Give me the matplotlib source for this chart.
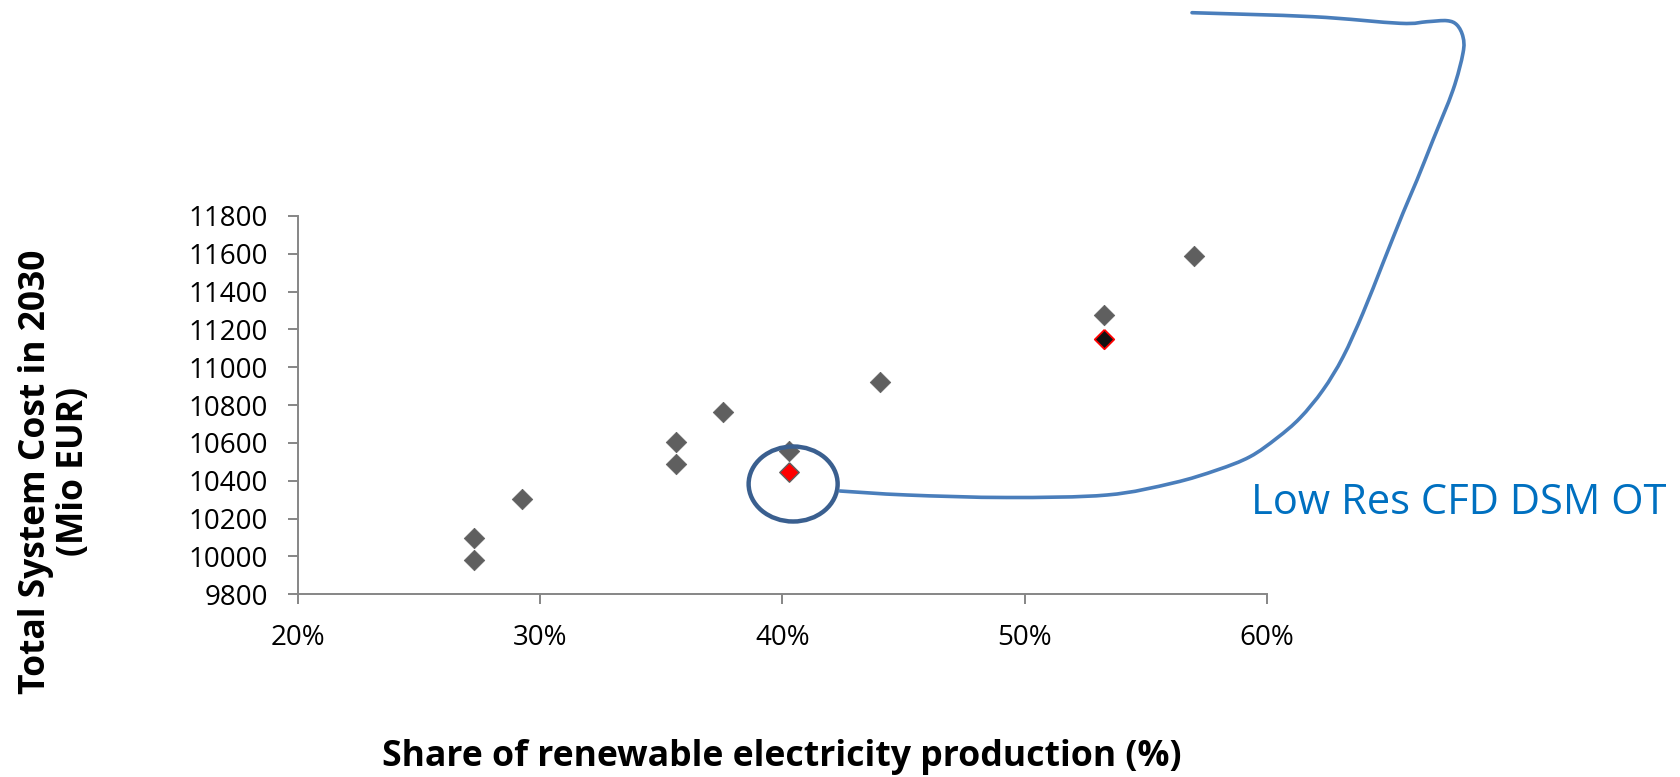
import matplotlib
matplotlib.use("Agg")
import matplotlib.pyplot as plt
from matplotlib.patches import Ellipse, PathPatch
from matplotlib.path import Path
from matplotlib.ticker import FuncFormatter

# ---------------- data ----------------
share_renewable = [0.2728, 0.2728, 0.2926, 0.3562, 0.3562, 0.3755, 0.4028, 0.4405, 0.5326, 0.5697]
total_cost = [10096, 9981, 10303, 10603, 10489, 10762, 10560, 10921, 11278, 11586]

highlight_share = [0.4028]
highlight_cost = [10445]

alt_share = [0.5326]
alt_cost = [11150]

x_ticks = [0.2, 0.3, 0.4, 0.5, 0.6]
y_ticks = [9800, 10000, 10200, 10400, 10600, 10800, 11000, 11200, 11400, 11600, 11800]

x_label = "Share of renewable electricity production (%)"
y_label = "Total System Cost in 2030\n(Mio EUR)"
callout_text = "Low Res CFD DSM OT"

# ---------------- styling ----------------
W, H = 1680, 777
FONT = "Open Sans"
GRAY = "#5f5f5f"
AXIS_GRAY = "#868686"

fig = plt.figure(figsize=(W / 100, H / 100), dpi=100)
ax = fig.add_axes([297.7 / W, 1 - 594.3 / H, (1267 - 297.7) / W, (594.3 - 216) / H])

diamond = [(0, 1), (1, 0), (0, -1), (-1, 0), (0, 1)]
ax.plot(share_renewable, total_cost, linestyle="none", marker=diamond, markersize=14.8,
        markerfacecolor=GRAY, markeredgecolor=GRAY, markeredgewidth=0.5, zorder=3)
ax.plot(highlight_share, highlight_cost, linestyle="none", marker=diamond, markersize=14,
        markerfacecolor="#ff0000", markeredgecolor=GRAY, markeredgewidth=1.0, zorder=4)
ax.plot(alt_share, alt_cost, linestyle="none", marker=diamond, markersize=14,
        markerfacecolor="#111111", markeredgecolor="#ff0000", markeredgewidth=1.3, zorder=4)

ax.set_xlim(0.2, 0.6)
ax.set_ylim(9800, 11800)
ax.set_xticks(x_ticks)
ax.set_yticks(y_ticks)
ax.xaxis.set_major_formatter(FuncFormatter(lambda v, p: f"{v*100:.0f}%"))

for s in ["top", "right"]:
    ax.spines[s].set_visible(False)
for s in ["left", "bottom"]:
    ax.spines[s].set_color(AXIS_GRAY)
    ax.spines[s].set_linewidth(1.4)
ax.tick_params(axis="both", direction="out", length=7, width=1.4, color=AXIS_GRAY,
               labelsize=20, pad=14.5, labelcolor="black")
for lab in ax.get_xticklabels() + ax.get_yticklabels():
    lab.set_fontfamily(FONT)

# axis titles
fig.text(782 / W, 1 - 757 / H, x_label, fontsize=25.7, fontweight="bold", family=FONT,
         ha="center", va="center")
fig.text(55 / W, 1 - 472 / H, y_label, fontsize=25.5, fontweight="bold", family=FONT,
         rotation=90, ha="center", va="center", multialignment="center", linespacing=1.05)

# callout ellipse around the highlighted point (size in pixels converted to data units)
px_per_x = (1267 - 297.7) / 0.4
px_per_y = (594.3 - 216) / 2000
ell_cx = highlight_share[0] + 4 / px_per_x
ell_cy = highlight_cost[0] - 11.7 / px_per_y
ell = Ellipse((ell_cx, ell_cy), width=89 / px_per_x, height=75 / px_per_y, fill=False,
              edgecolor="#3a5f8f", linewidth=3.2, zorder=5, clip_on=False)
ax.add_patch(ell)

# callout connector line (figure pixel coordinates, y measured from top)
curve_px = [(840, 491), (907, 495), (1007, 497.5), (1107, 495), (1173, 483), (1217, 470),
            (1250, 456.7), (1277, 438), (1300, 418), (1323, 390), (1343, 357), (1363, 313),
            (1383, 263), (1403, 213), (1417, 180), (1433, 140), (1453, 90), (1463, 53),
            (1463, 37), (1457, 25), (1447, 20.7), (1427, 21.7), (1400, 23.3), (1313, 16.7),
            (1192, 12.7)]
pts = [(x / W, 1 - y / H) for x, y in curve_px]
ext = [pts[0]] + pts + [pts[-1]]
verts = [pts[0]]
codes = [Path.MOVETO]
for i in range(1, len(ext) - 2):
    p0, p1, p2, p3 = ext[i - 1], ext[i], ext[i + 1], ext[i + 2]
    c1 = (p1[0] + (p2[0] - p0[0]) / 6, p1[1] + (p2[1] - p0[1]) / 6)
    c2 = (p2[0] - (p3[0] - p1[0]) / 6, p2[1] - (p3[1] - p1[1]) / 6)
    verts += [c1, c2, p2]
    codes += [Path.CURVE4] * 3
fig.add_artist(PathPatch(Path(verts, codes), fill=False, edgecolor="#4a7ebb",
                         linewidth=2.6, transform=fig.transFigure, capstyle="round"))

fig.text(1251 / W, 1 - 514 / H, callout_text, fontsize=30, family=FONT, color="#0070c0",
         ha="left", va="baseline")

fig.savefig("out.png", dpi=100, facecolor="white")
